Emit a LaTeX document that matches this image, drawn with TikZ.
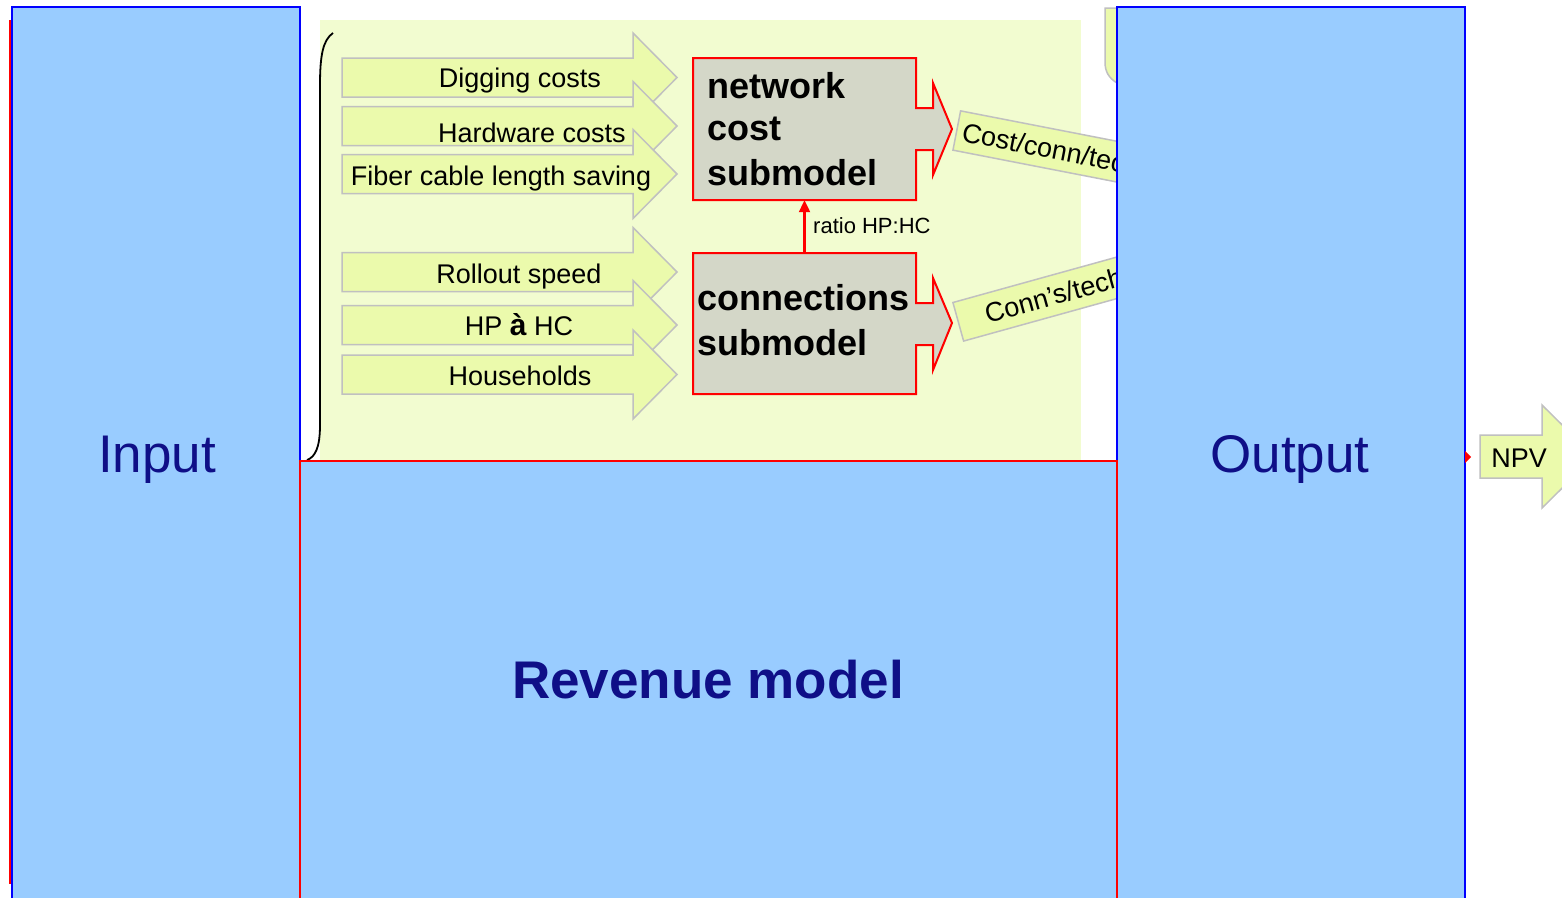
\documentclass[tikz,border=0pt]{standalone}
\usepackage{fontspec}
\setmainfont{Liberation Sans}
\usetikzlibrary{arrows.meta}
\definecolor{panelblue}{RGB}{153,204,255}
\definecolor{edgeblue}{RGB}{0,0,255}
\definecolor{navytext}{RGB}{15,15,135}
\definecolor{bgyellow}{RGB}{242,252,208}
\definecolor{arrowfill}{RGB}{235,250,172}
\definecolor{arrowgray}{RGB}{192,192,192}
\definecolor{boxfill}{RGB}{212,215,200}
\newcommand{\blkarrow}[1]{%
  \draw[inarrow] (342,{#1-19.5}) -- (633,{#1-19.5}) -- (633,{#1-44.5}) -- (677,#1)
    -- (633,{#1+44.5}) -- (633,{#1+19.5}) -- (342,{#1+19.5}) -- cycle;}
\begin{document}
\begin{tikzpicture}[x=1pt,y=-1pt,
  inarrow/.style={fill=arrowfill, draw=arrowgray, line width=1.5pt, line join=miter},
  lbl/.style={font=\fontsize{27}{32}\selectfont, anchor=base, inner sep=0pt},
  boxtxt/.style={font=\bfseries\fontsize{36}{43}\selectfont, anchor=base west, inner sep=0pt},
  subbox/.style={fill=boxfill, draw=red, line width=2pt, line join=miter},
  bigpanel/.style={fill=panelblue, draw=edgeblue, line width=2.2pt},
  bigtxt/.style={font=\fontsize{53}{60}\selectfont, text=navytext, anchor=base, inner sep=0pt},
  tilted/.style={fill=arrowfill, draw=arrowgray, line width=1.5pt, anchor=north west,
    minimum height=40pt, font=\fontsize{27}{32}\selectfont, inner ysep=0pt}]
\useasboundingbox[fill=white] (0,0) rectangle (1562,897);
\clip (0,0) rectangle (1562,897);

% thin red edge at far left
\draw[red, line width=2.2pt] (10.5,20) -- (10.5,884);

% light yellow background
\fill[bgyellow] (320,20) rectangle (1081,460);

% brace
\draw[black, line width=1.8pt] (333,33) .. controls (323,40) and (320,55) .. (320,85)
  -- (320,425) .. controls (320,448) and (315,457) .. (307,460);

% input arrows
\blkarrow{77.5}
\blkarrow{126}
\blkarrow{174}
\blkarrow{272}
\blkarrow{325}
\blkarrow{374.5}
\node[lbl] (dig) at (520,87) {Digging costs};
\node[lbl] (hw) at (532,142) {Hardware costs};
\node[lbl] (fib) at (501,185) {Fiber cable length saving};
\node[lbl] (roll) at (519,283) {Rollout speed};
\node[lbl] (hphc) at (519,335) {HP {\bfseries\fontsize{30}{32}\selectfont à} HC};
\node[lbl] (hh) at (520,385) {Households};

% submodel boxes
\node[minimum width=223pt, minimum height=142pt, inner sep=0pt] (net) at (804.5,129) {};
\node[minimum width=223pt, minimum height=141pt, inner sep=0pt] (conn) at (804.5,323.5) {};
\draw[subbox] (693,58) -- (916,58) -- (916,108) -- (933,108) -- (933,83) -- (952,129)
  -- (933,175) -- (933,150) -- (916,150) -- (916,200) -- (693,200) -- cycle;
\draw[subbox] (693,253) -- (916,253) -- (916,303) -- (933,303) -- (933,278) -- (952,323)
  -- (933,370) -- (933,345) -- (916,345) -- (916,394) -- (693,394) -- cycle;
\node[boxtxt] (net1) at (707,98) {network};
\node[boxtxt] (net2) at (707,140) {cost};
\node[boxtxt] (net3) at (707,185) {submodel};
\node[boxtxt] (con1) at (697,310) {connections};
\node[boxtxt] (con2) at (697,355) {submodel};

% ratio arrow
\draw[red, line width=2.2pt, -{Triangle[width=11pt,length=12pt]}] (conn.north) -- (net.south);
\node[font=\fontsize{22}{26}\selectfont, anchor=base west, inner sep=0pt] (ratio) at (813,233) {ratio HP:HC};

% tilted outputs of the submodels
\node[tilted, rotate=-11, inner xsep=6pt] (cct) at (960,110) {Cost/conn/tech};
\node[tilted, rotate=15.5, inner xsep=28pt] (cnt) at (952,302) {Conn’s/tech};

% hidden shape edge at top right
\draw[fill=arrowfill, draw=arrowgray, line width=1.5pt] (1117,8) -- (1105,8) -- (1105,62)
  .. controls (1105,72) and (1109,78) .. (1117,83);

% big panels
\draw[bigpanel] (12,7) rectangle (300,910);
\draw[bigpanel] (1117,7) rectangle (1465,910);
\draw[fill=panelblue, draw=red, line width=2.2pt] (300,461) rectangle (1117,910);
\node[bigtxt] (inp) at (157,472) {Input};
\node[bigtxt] (outp) at (1290,472) {Output};
\node[bigtxt, font=\bfseries\fontsize{53}{60}\selectfont] (rev) at (708,698) {Revenue model};

% NPV output arrow
\fill[red] (1465,451) -- (1471,457) -- (1465,463) -- cycle;
\draw[inarrow] (1480,435) -- (1542,435) -- (1542,405) -- (1594,456.5) -- (1542,508)
  -- (1542,478) -- (1480,478) -- cycle;
\node[lbl] (npv) at (1519,467) {NPV};
\end{tikzpicture}
\end{document}
